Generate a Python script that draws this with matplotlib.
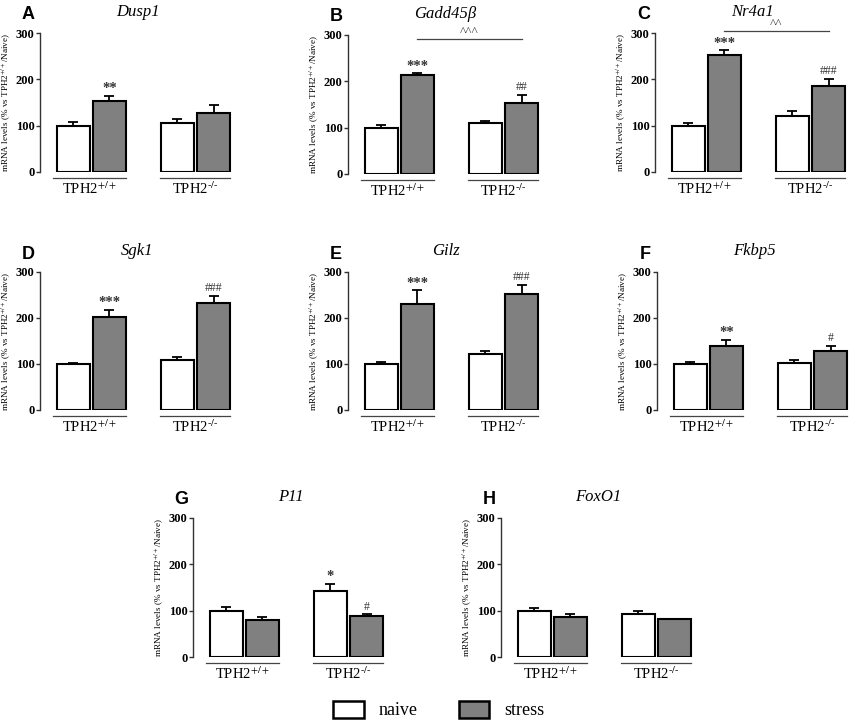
import numpy as np
import matplotlib.pyplot as plt
from matplotlib.patches import Patch

plt.rcParams['font.family'] = ['Liberation Serif', 'DejaVu Serif']
plt.rcParams['mathtext.fontset'] = 'stix'

genes = ['Dusp1', 'Gadd45β', 'Nr4a1', 'Sgk1', 'Gilz', 'Fkbp5', 'P11', 'FoxO1']
letters = ['A', 'B', 'C', 'D', 'E', 'F', 'G', 'H']

naive_wt = [100, 100, 100, 100, 100, 100, 100, 100]
naive_wt_err = [8, 5, 5, 3, 4, 4, 8, 6]
stress_wt = [153, 213, 252, 202, 230, 139, 79, 87]
stress_wt_err = [12, 5, 11, 16, 30, 14, 7, 5]
naive_ko = [106, 109, 121, 108, 121, 103, 143, 93]
naive_ko_err = [8, 5, 10, 8, 8, 6, 15, 6]
stress_ko = [127, 153, 185, 233, 252, 129, 89, 81]
stress_ko_err = [17, 18, 15, 15, 20, 10, 3, 2]

sig_stress_wt = ['**', '***', '***', '***', '***', '**', '', '']
sig_naive_ko = ['', '', '', '', '', '', '*', '']
sig_stress_ko = ['', '##', '###', '###', '###', '#', '#', '']
bracket_sig = ['', '^^^', '^^', '', '', '', '', '']

group_labels = ['TPH2$^{+/+}$', 'TPH2$^{\u2010/\u2010}$']
ylabel = 'mRNA levels (% vs TPH2$^{+/+}$/Naive)'

x_pos = [1.0, 2.1, 4.15, 5.25]

W, H = 850, 727
fig = plt.figure(figsize=(W / 100, H / 100), dpi=100)

# axes placement in pixels: (left axis x, y of value 0, y of value 300)
boxes = [(40, 172, 33), (348, 174, 35), (655, 172, 33),
         (40, 410, 272), (348, 410, 272), (657, 410, 272),
         (193, 657, 518), (501, 657, 518)]
ax_w = 195

for i, (lx, y0, y3) in enumerate(boxes):
    ax = fig.add_axes([lx / W, (H - y0) / H, ax_w / W, (y0 - y3) / H])
    vals = [naive_wt[i], stress_wt[i], naive_ko[i], stress_ko[i]]
    errs = [naive_wt_err[i], stress_wt_err[i], naive_ko_err[i], stress_ko_err[i]]
    colors = ['white', '#808080', 'white', '#808080']
    ax.bar(x_pos, vals, width=1.0, color=colors, edgecolor='black', linewidth=1.5, zorder=2)
    ax.errorbar(x_pos, vals, yerr=[np.zeros(4), errs], fmt='none', ecolor='black',
                elinewidth=1.3, capsize=3.5, capthick=1.3, zorder=1)
    sigs = ['', sig_stress_wt[i], sig_naive_ko[i], sig_stress_ko[i]]
    for x, v, e, s in zip(x_pos, vals, errs, sigs):
        if s:
            star = '*' in s
            ax.text(x, v + e + (1 if star else 4), s, ha='center', va='bottom',
                    fontsize=10.5 if star else 8.5,
                    color='#333333', fontweight='bold' if star else 'normal')
    if bracket_sig[i]:
        yb = 291 if i == 1 else 304
        ax.plot([x_pos[1], x_pos[3]], [yb, yb], color='#444444', lw=0.9, clip_on=False)
        ax.text((x_pos[1] + x_pos[3]) / 2, yb + 3, bracket_sig[i], ha='center', va='bottom',
                fontsize=9.5, color='#444444')
    for (a, b), lab in zip([(0.39, 2.6), (3.64, 5.76)], group_labels):
        ax.plot([a, b], [-13, -13], color='#444444', lw=0.9, clip_on=False)
        ax.text((a + b) / 2, -18, lab, ha='center', va='top', fontsize=10.5)

    ax.set_xlim(0, 5.9)
    ax.set_ylim(0, 300)
    ax.set_yticks([0, 100, 200, 300])
    ax.set_xticks([])
    for sp in ['top', 'right', 'bottom']:
        ax.spines[sp].set_visible(False)
    ax.spines['left'].set_color('#333333')
    ax.spines['left'].set_linewidth(1.0)
    ax.tick_params(axis='y', length=3, width=1, labelsize=9, pad=1, color='#333333')
    for t in ax.get_yticklabels():
        t.set_fontweight('bold')
    ax.set_ylabel(ylabel, fontsize=6.6, labelpad=2)
    ax.set_title(genes[i], fontsize=12, style='italic', pad=12)
    ax.text(-0.06, 1.13, letters[i], transform=ax.transAxes, fontsize=13,
            fontweight='bold', family='Liberation Sans', ha='center', va='center')

handles = [Patch(facecolor='white', edgecolor='black', linewidth=1.8),
           Patch(facecolor='#808080', edgecolor='black', linewidth=1.8)]
fig.legend(handles, ['naive', 'stress'], loc='lower center', bbox_to_anchor=(0.516, -0.012),
           ncol=2, frameon=False, fontsize=13, handlelength=1.7, handleheight=1.1,
           columnspacing=2.3)

fig.savefig('out.png', dpi=100)
